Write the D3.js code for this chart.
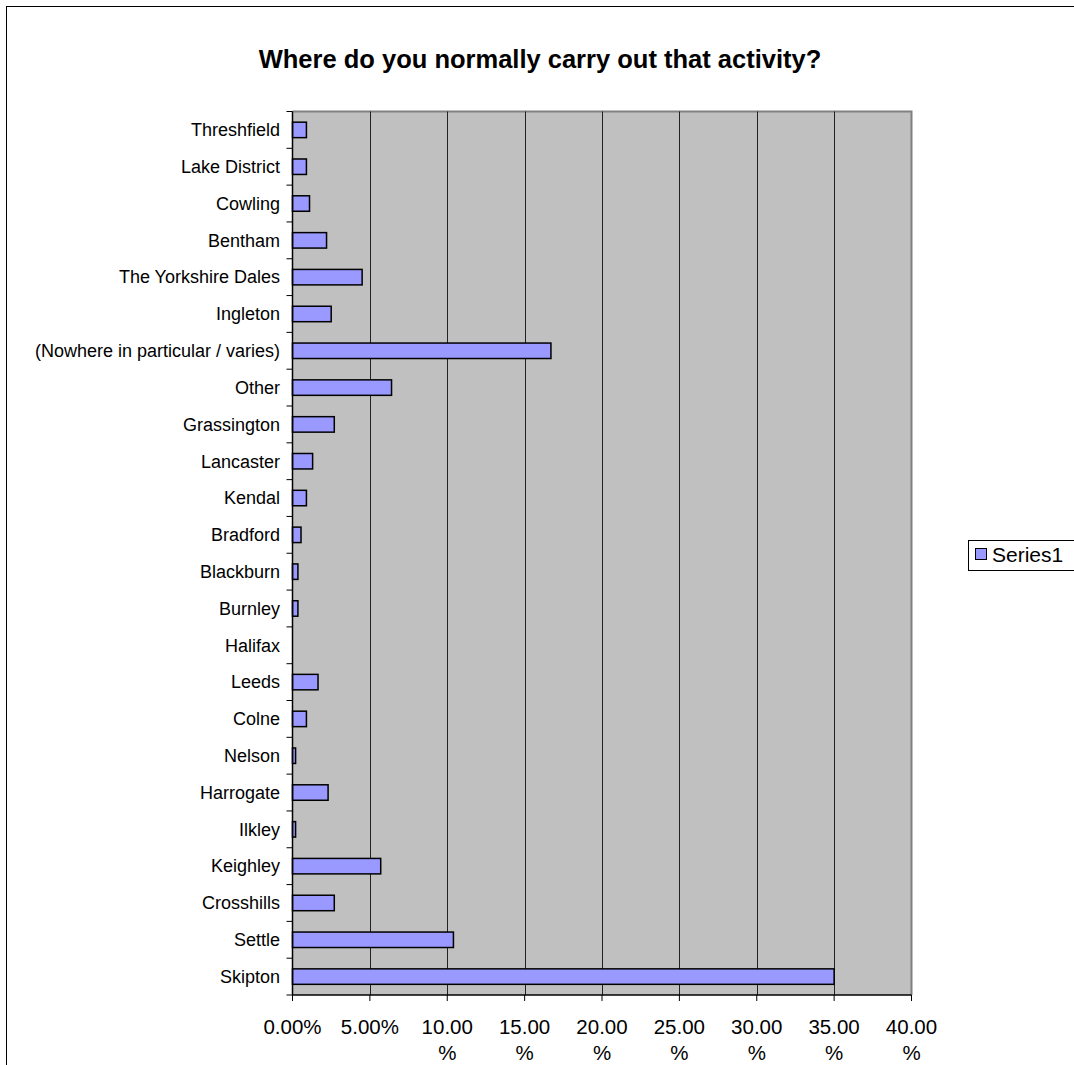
<!DOCTYPE html>
<html><head><meta charset="utf-8">
<script src="https://cdn.jsdelivr.net/npm/d3@7"></script>
<style>body{margin:0;background:#fff;}svg{display:block;}text{font-family:Arial,"Liberation Sans",sans-serif;}</style>
</head><body>
<script>
const categories = ["Threshfield","Lake District","Cowling","Bentham","The Yorkshire Dales","Ingleton","(Nowhere in particular / varies)","Other","Grassington","Lancaster","Kendal","Bradford","Blackburn","Burnley","Halifax","Leeds","Colne","Nelson","Harrogate","Ilkley","Keighley","Crosshills","Settle","Skipton"];
const values = [0.9,0.9,1.1,2.2,4.5,2.5,16.7,6.4,2.7,1.3,0.9,0.55,0.35,0.35,0,1.65,0.9,0.2,2.3,0.2,5.7,2.7,10.4,35.0];
const xTicks = [0,5,10,15,20,25,30,35,40];
const xTickLabels = ["0.00%","5.00%","10.00 %","15.00 %","20.00 %","25.00 %","30.00 %","35.00 %","40.00 %"];
const seriesName = "Series1";
const title = "Where do you normally carry out that activity?";

const W = 1074, H = 1065;
const svg = d3.select("body").append("svg").attr("width", W).attr("height", H);
svg.append("rect").attr("x",6.5).attr("y",6.5).attr("width",1100).attr("height",1100).attr("fill","#fff").attr("stroke","#000");

const L = 292.5, R = 911.5, T = 111.5, B = 995;
const x = d3.scaleLinear().domain([0,40]).range([L,R]);
const y = d3.scaleBand().domain(categories).range([T,B]).paddingInner(0.58).paddingOuter(0.29);
const yb = d3.scaleBand().domain(categories).range([T,B]);

svg.append("text").attr("x",540).attr("y",68).attr("text-anchor","middle")
  .attr("font-size",25.5).attr("font-weight","bold").text(title);

// plot bg
svg.append("rect").attr("x",L).attr("y",T).attr("width",R-L).attr("height",B-T).attr("fill","#C0C0C0");
svg.append("path").attr("d",`M${L},${T}H${R}V${B}`).attr("fill","none").attr("stroke","#808080").attr("stroke-width",2);

// gridlines
svg.append("g").selectAll("line").data(xTicks.filter(d=>d>0 && d<40)).join("line")
  .attr("x1",d=>Math.round(x(d))+0.5).attr("x2",d=>Math.round(x(d))+0.5).attr("y1",T).attr("y2",B)
  .attr("stroke","#222").attr("stroke-width",1);

// bars
svg.append("g").selectAll("rect").data(categories.map((c,i)=>({c,v:values[i]})).filter(d=>d.v>0)).join("rect")
  .attr("x",x(0)).attr("y",d=>y(d.c)).attr("width",d=>x(d.v)-x(0)).attr("height",y.bandwidth())
  .attr("fill","#9999FF").attr("stroke","#000").attr("stroke-width",1.5);

// y axis
const gy = svg.append("g");
gy.append("line").attr("x1",L).attr("x2",L).attr("y1",T).attr("y2",B).attr("stroke","#000").attr("stroke-width",1.5);
const bounds = categories.map(c=>yb(c)).concat([B]);
gy.selectAll("line.tk").data(bounds).join("line").attr("class","tk")
  .attr("x1",L-6).attr("x2",L).attr("y1",d=>d).attr("y2",d=>d).attr("stroke","#000");
gy.selectAll("text").data(categories).join("text")
  .attr("x",280).attr("y",c=>yb(c)+yb.bandwidth()/2).attr("dy","0.35em").attr("text-anchor","end")
  .attr("font-size",18).text(c=>c);

// x axis
const gx = svg.append("g");
gx.append("line").attr("x1",L).attr("x2",R).attr("y1",B).attr("y2",B).attr("stroke","#000").attr("stroke-width",1.5);
gx.selectAll("line.tk").data(xTicks).join("line").attr("class","tk")
  .attr("x1",d=>x(d)).attr("x2",d=>x(d)).attr("y1",B).attr("y2",B+6).attr("stroke","#000");
const tl = gx.selectAll("text").data(xTicks).join("text")
  .attr("x",d=>x(d)).attr("y",1034).attr("text-anchor","middle").attr("font-size",20.5);
tl.each(function(d,i){
  const parts = xTickLabels[i].split(" ");
  const t = d3.select(this);
  parts.forEach((p,j)=>t.append("tspan").attr("x",x(d)).attr("dy", j===0?0:26).text(p));
});

// legend
svg.append("rect").attr("x",968.5).attr("y",540.5).attr("width",120).attr("height",30).attr("fill","#fff").attr("stroke","#000");
svg.append("rect").attr("x",975.5).attr("y",548.5).attr("width",11).attr("height",11).attr("fill","#9999FF").attr("stroke","#000");
svg.append("text").attr("x",992).attr("y",562).attr("font-size",21).text(seriesName);
</script>
</body></html>
